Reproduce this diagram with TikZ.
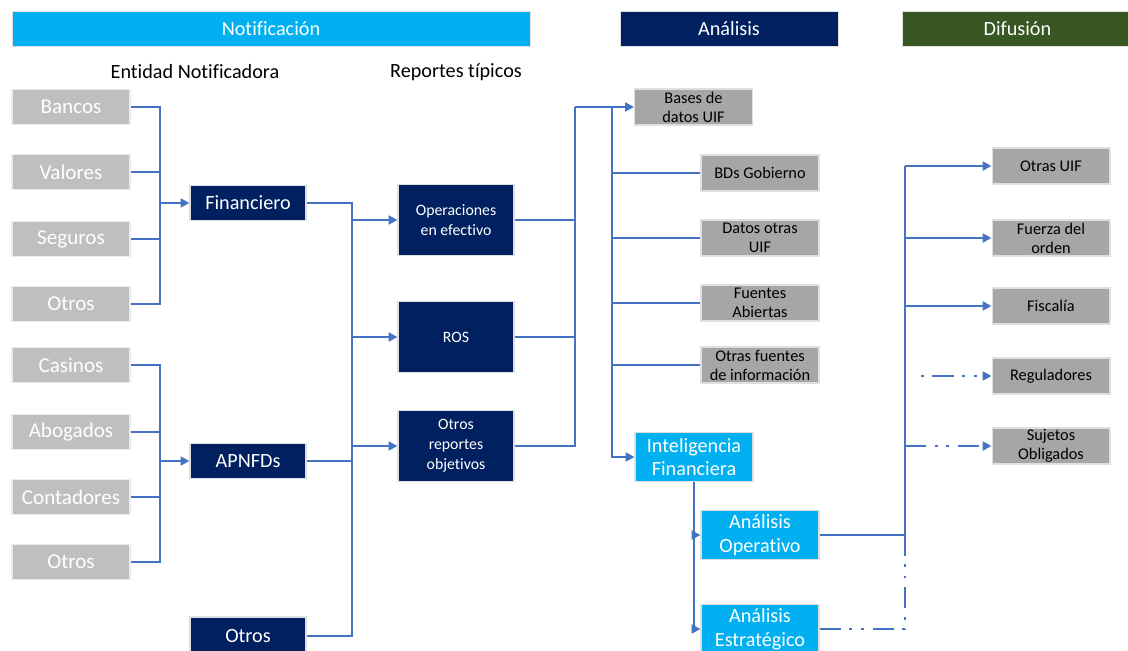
\documentclass[tikz,border=0pt]{standalone}
\usepackage{fontspec}
\setmainfont{Carlito}[Ligatures={NoCommon}]
\usetikzlibrary{arrows.meta,positioning,calc}
\definecolor{uifcyan}{HTML}{00B0F0}
\definecolor{uifnavy}{HTML}{002060}
\definecolor{uifgreen}{HTML}{385723}
\definecolor{uiflgray}{HTML}{BFBFBF}
\definecolor{uifdgray}{HTML}{A6A6A6}
\definecolor{uifblue}{HTML}{4472C4}

\begin{document}
\begin{tikzpicture}[x=0.02cm,y=-0.02cm,>={Triangle[length=5pt,width=5pt]},
  hd/.style={minimum height=0.7cm,inner sep=0pt,text=white,draw=gray!25,line width=0.5pt,font=\fontsize{11.5}{13}\selectfont},
  sub/.style={font=\fontsize{11.5}{13}\selectfont},
  gy/.style={fill=uiflgray,draw=gray!15,line width=0.6pt,text=white,minimum width=2.36cm,minimum height=0.71cm,inner sep=0pt,font=\fontsize{12}{14}\selectfont},
  nv/.style={fill=uifnavy,draw=gray!25,line width=0.6pt,text=white,minimum width=2.32cm,minimum height=0.7cm,inner sep=0pt,align=center,font=\fontsize{11.5}{13}\selectfont},
  rp/.style={nv,minimum height=1.43cm,font=\fontsize{9}{11.3}\selectfont},
  dg/.style={fill=uifdgray,draw=gray!25,line width=0.6pt,text=black,minimum width=2.36cm,minimum height=0.72cm,inner sep=0pt,align=center,font=\fontsize{9.3}{10.8}\selectfont},
  cy/.style={fill=uifcyan,draw=gray!25,line width=0.6pt,text=white,minimum width=2.36cm,minimum height=0.97cm,inner sep=0pt,align=center,font=\fontsize{11.5}{13.5}\selectfont},
  ln/.style={draw=uifblue,line width=1.6pt},
  dd/.style={dash pattern=on 12pt off 5pt on 1.6pt off 5pt on 1.6pt off 5pt}]
\useasboundingbox (0,0) rectangle (1128,651);
% phase headers
\node[hd,fill=uifcyan,minimum width=10.36cm] (h1) at (271,28.5) {Notificación};
\node[hd,fill=uifnavy,minimum width=4.36cm] (h2) at (729,28.5) {Análisis};
\node[hd,fill=uifgreen,minimum width=4.6cm,anchor=west] (h3) at (902,28.5) {Difusión};
\node[sub] (s1) at (195,72) {Entidad Notificadora};
\node[sub] (s2) at (456,72) {Reportes típicos};
% reporting entities
\foreach \n/\t/\y in {b1/Bancos/107,b2/Valores/172,b3/Seguros/239,b4/Otros/304,
  a1/Casinos/365,a2/Abogados/432,a3/Contadores/497,a4/Otros/562}
  \node[gy] (\n) at (71,\y) {\t};
\node[nv] (fin) at (248,203) {Financiero};
\node[nv] (apn) at (248,461) {APNFDs};
\node[nv,minimum height=0.76cm] (otr) at (248,636) {Otros};
% typical reports
\node[rp] (op) at (456,220) {Operaciones\\en efectivo};
\node[rp] (ros) at (456,337) {ROS};
\node[rp] (orr) at (456,446) {Otros\\reportes\\objetivos};
% analysis sources
\node[dg] (bd) at (693.5,107) {Bases de\\datos UIF};
\node[dg] (bg) at (760,173) {BDs Gobierno};
\node[dg] (du) at (760,238) {Datos otras\\UIF};
\node[dg] (fa) at (760,303) {Fuentes\\Abiertas};
\node[dg] (of) at (760,365) {Otras fuentes\\de información};
\node[cy] (ifn) at (694,457) {Inteligencia\\Financiera};
\node[cy] (ao) at (760,535) {Análisis\\Operativo};
\node[cy] (ae) at (760,629) {Análisis\\Estratégico};
% dissemination
\node[dg] (ou) at (1051,166) {Otras UIF};
\node[dg] (fo) at (1051,238) {Fuerza del\\orden};
\node[dg] (fi) at (1051,306) {Fiscalía};
\node[dg] (rg) at (1051,376) {Reguladores};
\node[dg] (so) at (1051,446) {Sujetos\\Obligados};
% entities to sector
\coordinate (j1) at (160,203);
\coordinate (j2) at (160,461);
\draw[ln] (b1.east) -| (j1) |- (b4.east);
\foreach \n in {b2,b3} \draw[ln] (\n.east) -- (\n.east -| j1);
\draw[ln,->] (j1) -- (fin.west);
\draw[ln] (a1.east) -| (j2) |- (a4.east);
\foreach \n in {a2,a3} \draw[ln] (\n.east) -- (\n.east -| j2);
\draw[ln,->] (j2) -- (apn.west);
% sector to reports
\coordinate (k1) at (352,203);
\draw[ln] (fin.east) -- (k1) |- (otr.east);
\draw[ln] (apn.east) -- (apn.east -| k1);
\foreach \n in {op,ros,orr} \draw[ln,->] (k1 |- \n.west) -- (\n.west);
% reports to analysis
\coordinate (m1) at (575,107);
\coordinate (m2) at (612,107);
\foreach \n in {op,ros,orr} \draw[ln] (\n.east) -| (m1);
\draw[ln,->] (m1) -- (bd.west);
\draw[ln,->] (m2) |- (ifn.west);
\foreach \n in {bg,du,fa,of} \draw[ln] (m2 |- \n.west) -- (\n.west);
\draw[ln,->] (ifn.south) |- (ao.west);
\draw[ln,->] (ifn.south) |- (ae.west);
% analysis to recipients
\coordinate (r1) at (905,166);
\coordinate (r2) at (905,556);
\draw[ln] (ao.east) -- (ao.east -| r1);
\draw[ln] (r1) -- (r2);
\foreach \n in {ou,fo,fi} \draw[ln,->] (r1 |- \n.west) -- (\n.west);
\draw[ln,dd,dash phase=18.6pt,->] ([xshift=4pt]r1 |- rg.west) -- (rg.west);
\draw[ln,dd,->] (r1 |- so.west) -- (so.west);
\draw[ln,dd] (ae.east) -| (r2);
\end{tikzpicture}
\end{document}
